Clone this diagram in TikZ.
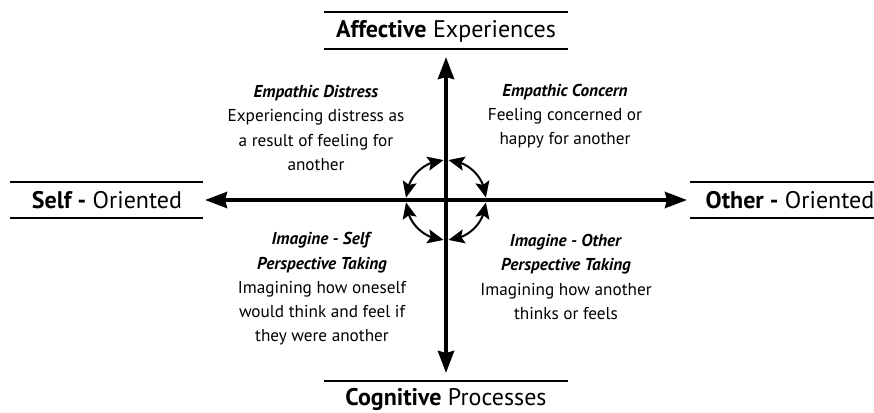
\documentclass[tikz,border=0pt]{standalone}
\usepackage{fontspec}
\setmainfont{PT Sans}
\usetikzlibrary{arrows.meta,bending}
\begin{document}
\begin{tikzpicture}[x=1pt,y=-1pt,
  lbl/.style={inner sep=0pt, font=\fontsize{24}{28}\selectfont},
  body/.style={inner sep=0pt, align=center, font=\fontsize{17.2}{24.3}\selectfont},
  rule/.style={line width=2pt},
  axis/.style={line width=4pt, {Stealth[length=22pt,width=16pt,inset=2pt]}-{Stealth[length=22pt,width=16pt,inset=2pt]}},
  circ/.style={line width=2pt, {Stealth[length=16pt,width=14pt,inset=3pt,flex]}-{Stealth[length=16pt,width=14pt,inset=3pt,flex]}}]
\useasboundingbox (0,0) rectangle (874,412);
% labels
\node[lbl] (aff) at (446,31) {\textbf{Affective} Experiences};
\node[lbl] (cog) at (446,399) {\textbf{Cognitive} Processes};
\node[lbl] (self) at (107,200) {\textbf{Self -} Oriented};
\node[lbl] (other) at (790,200) {\textbf{Other -} Oriented};
\draw[rule] (324,12) -- (568,12);
\draw[rule] (324,49) -- (568,49);
\draw[rule] (324,381) -- (568,381);
\draw[rule] (10,182) -- (203,182);
\draw[rule] (10,218) -- (203,218);
\draw[rule] (690,182) -- (874,182);
\draw[rule] (690,218) -- (874,218);
% axes
\coordinate (O) at (446,200);
\coordinate (T) at (446,57);
\coordinate (B) at (446,373);
\coordinate (L) at (205,200);
\coordinate (R) at (687,200);
\draw[axis] (T) -- (B);
\draw[axis] (L) -- (R);
% circle arrows
\draw[circ] ([shift={(93.5:40)}]O) arc[start angle=93.5, end angle=176.5, radius=40];
\draw[circ] ([shift={(3.5:40)}]O) arc[start angle=3.5, end angle=86.5, radius=40];
\draw[circ] ([shift={(183.5:40)}]O) arc[start angle=183.5, end angle=266.5, radius=40];
\draw[circ] ([shift={(273.5:40)}]O) arc[start angle=273.5, end angle=356.5, radius=40];
% quadrant texts
\node[body] (tl) at (316,128) {\textbf{\textit{Empathic Distress}}\\Experiencing distress as\\a result of feeling for\\another};
\node[body] (tr) at (565,116) {\textbf{\textit{Empathic Concern}}\\Feeling concerned or\\happy for another};
\node[body] (bl) at (322,289) {\textbf{\textit{Imagine - Self}}\\\textbf{\textit{Perspective Taking}}\\Imagining how oneself\\would think and feel if\\they were another};
\node[body] (br) at (566,277) {\textbf{\textit{Imagine - Other}}\\\textbf{\textit{Perspective Taking}}\\Imagining how another\\thinks or feels};
\end{tikzpicture}
\end{document}
